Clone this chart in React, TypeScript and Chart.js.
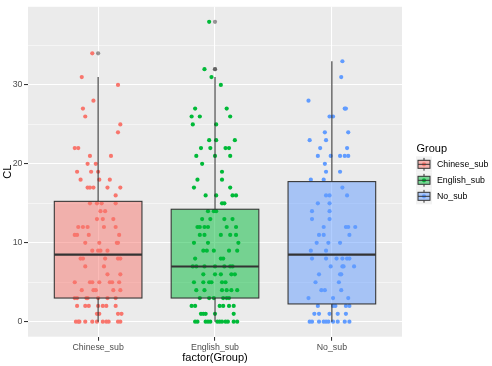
import React, { useEffect, useRef } from "react";
import { Chart, registerables } from "chart.js";

Chart.register(...registerables);

// ---------- data ----------
const categories = ["Chinese_sub", "English_sub", "No_sub"];
const groupColors = ["#F8766D", "#00BA38", "#619CFF"];
const groupFills = ["rgba(248,118,109,0.5)", "rgba(0,186,56,0.5)", "rgba(97,156,255,0.5)"];

const yMajorTicks = [0, 10, 20, 30];
const yMinorTicks = [5, 15, 25, 35];

// [CL value, horizontal jitter offsets (category units) of the points at that value]
const chinesePoints: [number, number[]][] = [
  [34, [-0.05]], [31, [-0.14]], [30, [0.17]], [28, [-0.04]], [27, [-0.13]], [26, [-0.11]],
  [25, [0.19]], [24, [0.17]], [22, [-0.2, -0.17]], [21, [-0.07, 0.11]], [20, [-0.09, -0.02]],
  [19, [-0.18, -0.06, 0.0]], [18, [-0.15, 0.01, 0.1]], [17, [-0.09, -0.07, -0.04, 0.08, 0.19]],
  [16, [0.15]], [15, [-0.07, -0.01, 0.03, 0.15]], [14, [0.02, 0.06]], [13, [-0.01, 0.04, 0.13]],
  [12, [-0.17, -0.13, -0.09, 0.05, 0.15]], [11, [-0.2, -0.18, -0.08, 0.18]],
  [10, [-0.11, 0.01, 0.16, 0.17]], [9, [-0.05, 0.0, 0.02, 0.08]], [8, [-0.15, -0.13, 0.06, 0.17, 0.19]],
  [7, [-0.11, 0.05]], [6, [0.08, 0.19]], [5, [-0.2, -0.07, -0.05, 0.01, 0.1, 0.12, 0.18]],
  [4, [-0.14, -0.04, -0.02, 0.13, 0.19]], [3, [-0.2, -0.18, -0.1, -0.09, 0.0, 0.08, 0.15]],
  [2, [-0.18, -0.11, -0.08, 0.0, 0.04, 0.07, 0.15]], [1, [-0.01, 0.01, 0.17, 0.2]],
  [0, [-0.19, -0.17, -0.16, -0.11, -0.05, -0.01, 0.04, 0.07, 0.09, 0.17, 0.19]],
];

const englishPoints: [number, number[]][] = [
  [38, [-0.05]], [32, [-0.09]], [31, [-0.03]], [30, [0.05]], [27, [-0.17, 0.1]],
  [26, [-0.2, -0.13, 0.13]], [25, [-0.19, 0.01]], [23, [-0.05, 0.01, 0.17]],
  [22, [-0.12, -0.04, 0.09, 0.12]], [21, [-0.16, 0.0, 0.13]], [20, [-0.11]], [19, [0.06]],
  [18, [-0.15, 0.06]], [17, [-0.18, 0.13]], [16, [-0.08, 0.01, 0.15, 0.18]], [15, [0.06, 0.08]],
  [14, [-0.06, -0.01, 0.01]], [13, [-0.11, -0.04, 0.08, 0.15]],
  [12, [-0.15, -0.13, -0.09, -0.06, 0.1, 0.18]], [11, [-0.13, -0.09, 0.05, 0.13, 0.18]],
  [10, [-0.18, -0.06, 0.2]], [9, [-0.1, -0.07, -0.01, 0.12, 0.19]], [8, [-0.17, 0.05, 0.07]],
  [7, [-0.19, -0.16, -0.09, 0.0, 0.08, 0.13, 0.15]], [6, [-0.1, 0.0, 0.05, 0.14, 0.17]],
  [5, [-0.18, -0.1, -0.05, -0.03, 0.06, 0.09]], [4, [-0.16, -0.09, 0.06, 0.1, 0.14, 0.19]],
  [3, [-0.13, -0.05, -0.01, 0.07, 0.1, 0.12]], [2, [-0.2, -0.17, 0.04, 0.07, 0.12, 0.16]],
  [1, [-0.12, -0.1, -0.08, 0.0, 0.16]],
  [0, [-0.17, -0.15, -0.08, -0.06, -0.04, 0.02, 0.04, 0.06, 0.09, 0.11, 0.16, 0.19]],
];

const noSubPoints: [number, number[]][] = [
  [33, [0.09]], [31, [0.08]], [28, [-0.2]], [27, [0.11, 0.12]], [26, [-0.02, 0.01]],
  [24, [-0.06, 0.14]], [23, [-0.19, -0.05]], [22, [-0.1, 0.13]], [21, [-0.12, -0.01, 0.07, 0.11, 0.14]],
  [20, [-0.06]], [19, [-0.05, 0.07]], [18, [-0.18, -0.07]], [17, [0.09]], [16, [-0.05, -0.02, 0.13]],
  [15, [-0.12, -0.02]], [14, [-0.17, -0.02]], [13, [-0.17, -0.02]], [12, [-0.07, 0.12, 0.14, 0.2]],
  [11, [-0.11, -0.07, 0.15]], [10, [-0.13, -0.03, 0.07]], [9, [-0.18, -0.05]],
  [8, [-0.17, -0.05, 0.04, 0.09, 0.13, 0.15]], [7, [-0.01, 0.09, 0.1, 0.19]], [6, [-0.11, 0.07, 0.08]],
  [5, [-0.14, 0.06]], [4, [-0.09, -0.06, 0.08]], [3, [-0.2, 0.01, 0.14]],
  [2, [-0.12, 0.01, 0.03, 0.12, 0.15]], [1, [-0.15, -0.11, -0.02, 0.05, 0.12]],
  [0, [-0.19, -0.17, -0.11, -0.07, -0.05, -0.03, 0.01, 0.05, 0.11, 0.15]],
];

// boxplot statistics
const boxQ1 = [3, 3, 2.25];
const boxMedian = [8.5, 7, 8.5];
const boxQ3 = [15.25, 14.25, 17.75];
const whiskerLow = [0, 0, 0];
const whiskerHigh = [31, 31, 33];
const boxOutliers = [[34], [32, 32, 38], []];

const legendTitle = "Group";
const xTitle = "factor(Group)";
const yTitle = "CL";

// ---------- styling ----------
const FONT = '"Liberation Sans", Arial, sans-serif';
const INK = "#333333";

const allGroupPoints = [chinesePoints, englishPoints, noSubPoints];

const panelBg = {
  id: "panelBg",
  beforeDraw(chart: any) {
    const { ctx, chartArea: a } = chart;
    ctx.save();
    ctx.fillStyle = "#FFFFFF";
    ctx.fillRect(0, 0, chart.width, chart.height);
    ctx.fillStyle = "#EBEBEB";
    ctx.fillRect(a.left, a.top, a.right - a.left, a.bottom - a.top);
    ctx.restore();
  },
};

const boxplots = {
  id: "boxplots",
  afterDatasetsDraw(chart: any) {
    const { ctx } = chart;
    const xs = chart.scales.x;
    const ys = chart.scales.y;
    ctx.save();
    categories.forEach((_, i) => {
      const cx = xs.getPixelForValue(i + 1);
      const l = xs.getPixelForValue(i + 1 - 0.375);
      const r = xs.getPixelForValue(i + 1 + 0.375);
      const q1 = ys.getPixelForValue(boxQ1[i]);
      const q3 = ys.getPixelForValue(boxQ3[i]);
      const md = ys.getPixelForValue(boxMedian[i]);
      const wl = ys.getPixelForValue(whiskerLow[i]);
      const wh = ys.getPixelForValue(whiskerHigh[i]);
      ctx.strokeStyle = INK;
      ctx.lineWidth = 1.07;
      ctx.beginPath();
      ctx.moveTo(cx, q3);
      ctx.lineTo(cx, wh);
      ctx.moveTo(cx, q1);
      ctx.lineTo(cx, wl);
      ctx.stroke();
      ctx.fillStyle = groupFills[i];
      ctx.fillRect(l, q3, r - l, q1 - q3);
      ctx.strokeRect(l, q3, r - l, q1 - q3);
      ctx.lineWidth = 2.1;
      ctx.beginPath();
      ctx.moveTo(l, md);
      ctx.lineTo(r, md);
      ctx.stroke();
      ctx.fillStyle = "rgba(51,51,51,0.5)";
      boxOutliers[i].forEach((v) => {
        ctx.beginPath();
        ctx.arc(cx, ys.getPixelForValue(v), 2.1, 0, Math.PI * 2);
        ctx.fill();
      });
    });
    ctx.restore();
  },
};

const decorations = {
  id: "decorations",
  afterDraw(chart: any) {
    const { ctx, chartArea: a } = chart;
    ctx.save();
    // axis titles
    ctx.fillStyle = "#000000";
    ctx.font = `11px ${FONT}`;
    ctx.textAlign = "center";
    ctx.textBaseline = "middle";
    ctx.fillText(xTitle, (a.left + a.right) / 2, 358);
    ctx.save();
    ctx.translate(7.5, (a.top + a.bottom) / 2);
    ctx.rotate(-Math.PI / 2);
    ctx.fillText(yTitle, 0, 0);
    ctx.restore();

    // legend
    ctx.textAlign = "left";
    ctx.textBaseline = "alphabetic";
    ctx.font = `11px ${FONT}`;
    ctx.fillText(legendTitle, 416.5, 151.5);
    const keyLeft = 416;
    const key = 16;
    categories.forEach((cat, i) => {
      const cy = 164.3 + i * key;
      const top = cy - key / 2;
      ctx.fillStyle = "#F2F2F2";
      ctx.fillRect(keyLeft, top, key, key);
      const cx = keyLeft + key / 2;
      ctx.fillStyle = groupColors[i];
      ctx.beginPath();
      ctx.arc(cx, cy, 2.1, 0, Math.PI * 2);
      ctx.fill();
      ctx.strokeStyle = INK;
      ctx.lineWidth = 1;
      ctx.beginPath();
      ctx.moveTo(cx, top + key * 0.1);
      ctx.lineTo(cx, top + key * 0.25);
      ctx.moveTo(cx, top + key * 0.75);
      ctx.lineTo(cx, top + key * 0.9);
      ctx.stroke();
      const bl = keyLeft + key * 0.125;
      const bw = key * 0.75;
      ctx.fillStyle = groupFills[i];
      ctx.fillRect(bl, top + key * 0.25, bw, key * 0.5);
      ctx.strokeRect(bl, top + key * 0.25, bw, key * 0.5);
      ctx.beginPath();
      ctx.moveTo(bl, cy);
      ctx.lineTo(bl + bw, cy);
      ctx.stroke();
      ctx.fillStyle = "#000000";
      ctx.font = `8.8px ${FONT}`;
      ctx.textBaseline = "middle";
      ctx.fillText(cat, 437, cy + 0.5);
    });
    ctx.restore();
  },
};

export default function App() {
  const ref = useRef<HTMLCanvasElement | null>(null);

  useEffect(() => {
    if (!ref.current) return;
    const datasets = allGroupPoints.map((pts, gi) => ({
      type: "scatter" as const,
      label: categories[gi],
      data: pts.flatMap(([v, offs]) => offs.map((o) => ({ x: gi + 1 + o, y: v }))),
      backgroundColor: groupColors[gi],
      borderWidth: 0,
      pointRadius: 2.1,
      pointHoverRadius: 2.1,
    }));

    const chart = new Chart(ref.current, {
      type: "scatter",
      data: { datasets },
      options: {
        animation: false,
        responsive: false,
        devicePixelRatio: 1,
        layout: { padding: { left: 0, right: 90, top: 6, bottom: 0 } },
        plugins: { legend: { display: false }, tooltip: { enabled: false } },
        scales: {
          x: {
            type: "linear",
            min: 0.4,
            max: 3.6,
            afterBuildTicks: (s: any) => {
              s.ticks = categories.map((_, i) => ({ value: i + 1 }));
            },
            afterFit: (s: any) => {
              s.height = 29.3;
            },
            ticks: {
              callback: (v: any) => categories[Number(v) - 1] ?? "",
              color: "#4D4D4D",
              font: { family: FONT, size: 8.8 },
              padding: 1.5,
              maxRotation: 0,
              autoSkip: false,
            },
            grid: {
              color: "#FFFFFF",
              lineWidth: 1.07,
              tickColor: INK,
              tickWidth: 1.07,
              tickLength: 4,
              drawTicks: true,
            },
            border: { display: false },
          },
          y: {
            type: "linear",
            min: -1.9,
            max: 39.9,
            afterBuildTicks: (s: any) => {
              s.ticks = [...yMajorTicks, ...yMinorTicks]
                .sort((a, b) => a - b)
                .map((v) => ({ value: v }));
            },
            afterFit: (s: any) => {
              s.width = 28;
            },
            ticks: {
              callback: (v: any) => (yMajorTicks.includes(Number(v)) ? String(v) : ""),
              color: "#4D4D4D",
              font: { family: FONT, size: 8.8 },
              padding: 1.5,
              autoSkip: false,
            },
            grid: {
              color: "#FFFFFF",
              lineWidth: (c: any) => (c.tick && yMajorTicks.includes(c.tick.value) ? 1.07 : 0.53),
              tickColor: (c: any) =>
                c.tick && yMajorTicks.includes(c.tick.value) ? INK : "rgba(0,0,0,0)",
              tickWidth: 1.07,
              tickLength: 4,
              drawTicks: true,
            },
            border: { display: false },
          },
        },
      },
      plugins: [panelBg, boxplots, decorations],
    });
    return () => chart.destroy();
  }, []);

  return (
    <div style={{ position: "absolute", left: 0, top: 0, width: 492, height: 366 }}>
      <canvas ref={ref} width={492} height={366} style={{ width: 492, height: 366, display: "block" }} />
    </div>
  );
}
